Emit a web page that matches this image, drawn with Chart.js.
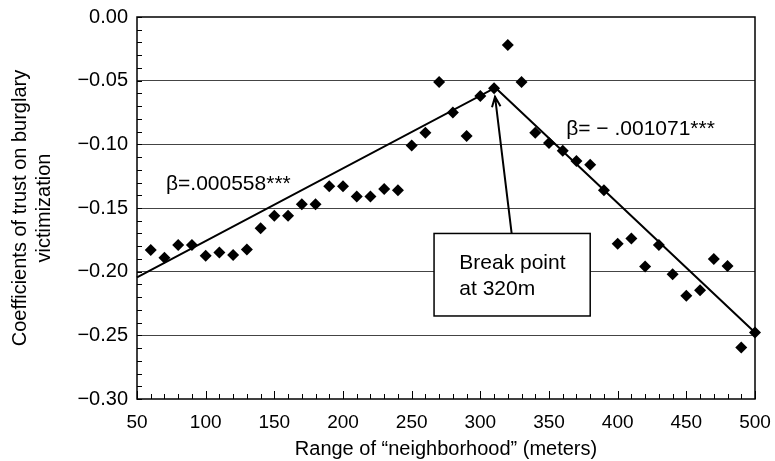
<!DOCTYPE html>
<html>
<head>
<meta charset="utf-8">
<script src="https://cdn.jsdelivr.net/npm/chart.js@4"></script>
<style>
body { margin: 0; background: #fff; }
#wrap { width: 775px; height: 461px; }
</style>
</head>
<body>
<div id="wrap"><canvas id="myChart" width="775" height="461"></canvas></div>
<script>
// Range of neighborhood (m) and the coefficient estimated at each range
const rangeM = [60, 70, 80, 90, 100, 110, 120, 130, 140, 150, 160, 170, 180, 190, 200,
                210, 220, 230, 240, 250, 260, 270, 280, 290, 300, 310, 320, 330, 340, 350,
                360, 370, 380, 390, 400, 410, 420, 430, 440, 450, 460, 470, 480, 490, 500];
const coef = [-0.183, -0.189, -0.179, -0.179, -0.1875, -0.185, -0.187, -0.1825, -0.166, -0.156,
              -0.156, -0.147, -0.147, -0.133, -0.133, -0.141, -0.141, -0.135, -0.136, -0.101,
              -0.091, -0.051, -0.075, -0.0935, -0.062, -0.056, -0.022, -0.051, -0.091, -0.099,
              -0.105, -0.113, -0.116, -0.136, -0.178, -0.174, -0.196, -0.179, -0.202, -0.219,
              -0.2145, -0.190, -0.1955, -0.2595, -0.2477];

// piecewise regression line (two segments joined at the break)
const fitX = [50, 311, 500];
const fitY = [-0.2045, -0.0555, -0.2477];

// annotation texts
const leftBeta = 'β=.000558***';
const rightBeta = 'β= − .001071***';
const boxLines = ['Break point', 'at 320m'];

const FONT = "'Liberation Sans', Arial, Helvetica, sans-serif";
Chart.defaults.font.family = FONT;
Chart.defaults.color = '#000';

const fmtY = v => (Math.abs(v) < 1e-9 ? '0.00' : '\u2212' + Math.abs(v).toFixed(2));

const decor = {
    id: 'decor',
    afterDatasetsDraw(chart) {
        const c = chart.ctx;
        const xs = chart.scales.x, ys = chart.scales.y;
        const a = chart.chartArea;
        c.save();
        c.strokeStyle = '#000';

        // minor ticks on the y axis (every 0.01, inward)
        c.lineWidth = 1;
        c.beginPath();
        for (let i = 0; i <= 30; i++) {
            const py = Math.round(ys.getPixelForValue(-i / 100)) + 0.5;
            c.moveTo(a.left, py);
            c.lineTo(a.left + 5, py);
        }
        // ticks on the x axis (every 10, longer every 50)
        for (let v = 50; v <= 500; v += 10) {
            const px = Math.round(xs.getPixelForValue(v)) + 0.5;
            const len = (v % 50 === 0) ? 8 : 5;
            c.moveTo(px, a.bottom);
            c.lineTo(px, a.bottom - len);
        }
        c.stroke();

        // frame
        c.lineWidth = 1.5;
        c.strokeRect(a.left, a.top, a.right - a.left, a.bottom - a.top);

        // arrow from box to the break
        const bx = xs.getPixelForValue(322.8), by = ys.getPixelForValue(-0.170);
        const tx = xs.getPixelForValue(310.7), ty = ys.getPixelForValue(-0.0626);
        c.lineWidth = 2;
        c.beginPath();
        c.moveTo(bx, by);
        c.lineTo(tx, ty);
        const ang = Math.atan2(ty - by, tx - bx);
        c.moveTo(tx - 11 * Math.cos(ang - 0.4), ty - 11 * Math.sin(ang - 0.4));
        c.lineTo(tx, ty);
        c.lineTo(tx - 11 * Math.cos(ang + 0.4), ty - 11 * Math.sin(ang + 0.4));
        c.stroke();

        // label box
        const x0 = xs.getPixelForValue(266.3), x1 = xs.getPixelForValue(380.0);
        const y0 = ys.getPixelForValue(-0.170), y1 = ys.getPixelForValue(-0.2348);
        c.fillStyle = '#fff';
        c.fillRect(x0, y0, x1 - x0, y1 - y0);
        c.lineWidth = 1.5;
        c.strokeRect(x0, y0, x1 - x0, y1 - y0);

        c.fillStyle = '#000';
        c.textBaseline = 'alphabetic';
        c.textAlign = 'left';
        c.font = '21px ' + FONT;
        c.fillText(boxLines[0], xs.getPixelForValue(284.7), ys.getPixelForValue(-0.198));
        c.fillText(boxLines[1], xs.getPixelForValue(284.7), ys.getPixelForValue(-0.2183));

        // slope labels
        c.fillText(leftBeta, xs.getPixelForValue(71.1), ys.getPixelForValue(-0.1359));
        c.fillText(rightBeta, xs.getPixelForValue(362.5), ys.getPixelForValue(-0.0927));
        c.restore();
    }
};

new Chart(document.getElementById('myChart').getContext('2d'), {
    type: 'scatter',
    data: {
        datasets: [{
            label: 'coef',
            data: rangeM.map((x, i) => ({ x: x, y: coef[i] })),
            pointStyle: 'rectRot',
            pointRadius: 6,
            pointHoverRadius: 6,
            backgroundColor: '#000',
            borderColor: '#000',
            borderWidth: 0,
            clip: false
        }, {
            label: 'fit',
            data: fitX.map((x, i) => ({ x: x, y: fitY[i] })),
            showLine: true,
            borderColor: '#000',
            borderWidth: 2,
            pointRadius: 0,
            clip: false
        }]
    },
    options: {
        responsive: false,
        animation: false,
        events: [],
        layout: { padding: { top: 17, right: 20, left: 0, bottom: 0 } },
        plugins: { legend: { display: false }, tooltip: { enabled: false } },
        scales: {
            x: {
                type: 'linear',
                min: 50, max: 500,
                afterFit: s => { s.height = 62; s.paddingLeft = 0; s.paddingRight = 0; },
                ticks: { stepSize: 50, padding: 12, font: { size: 19 }, maxRotation: 0 },
                grid: { display: false, drawTicks: false },
                border: { display: false },
                title: {
                    display: true,
                    text: 'Range of \u201cneighborhood\u201d (meters)',
                    font: { size: 20 },
                    padding: { top: 0, bottom: 0 }
                }
            },
            y: {
                min: -0.30, max: 0,
                afterFit: s => { s.width = 137; s.paddingTop = 0; s.paddingBottom = 0; },
                ticks: { stepSize: 0.05, padding: 9, font: { size: 20 }, callback: fmtY },
                grid: {
                    drawTicks: false,
                    color: ctx => (ctx.tick && (ctx.tick.value > -0.001 || ctx.tick.value < -0.299)) ? 'rgba(0,0,0,0)' : '#444',
                    lineWidth: 1
                },
                border: { display: false },
                title: {
                    display: true,
                    text: ['Coefficients of trust on burglary', 'victimization'],
                    font: { size: 20 },
                    padding: { top: 8, bottom: 0 }
                }
            }
        }
    },
    plugins: [decor]
});
</script>
</body>
</html>
